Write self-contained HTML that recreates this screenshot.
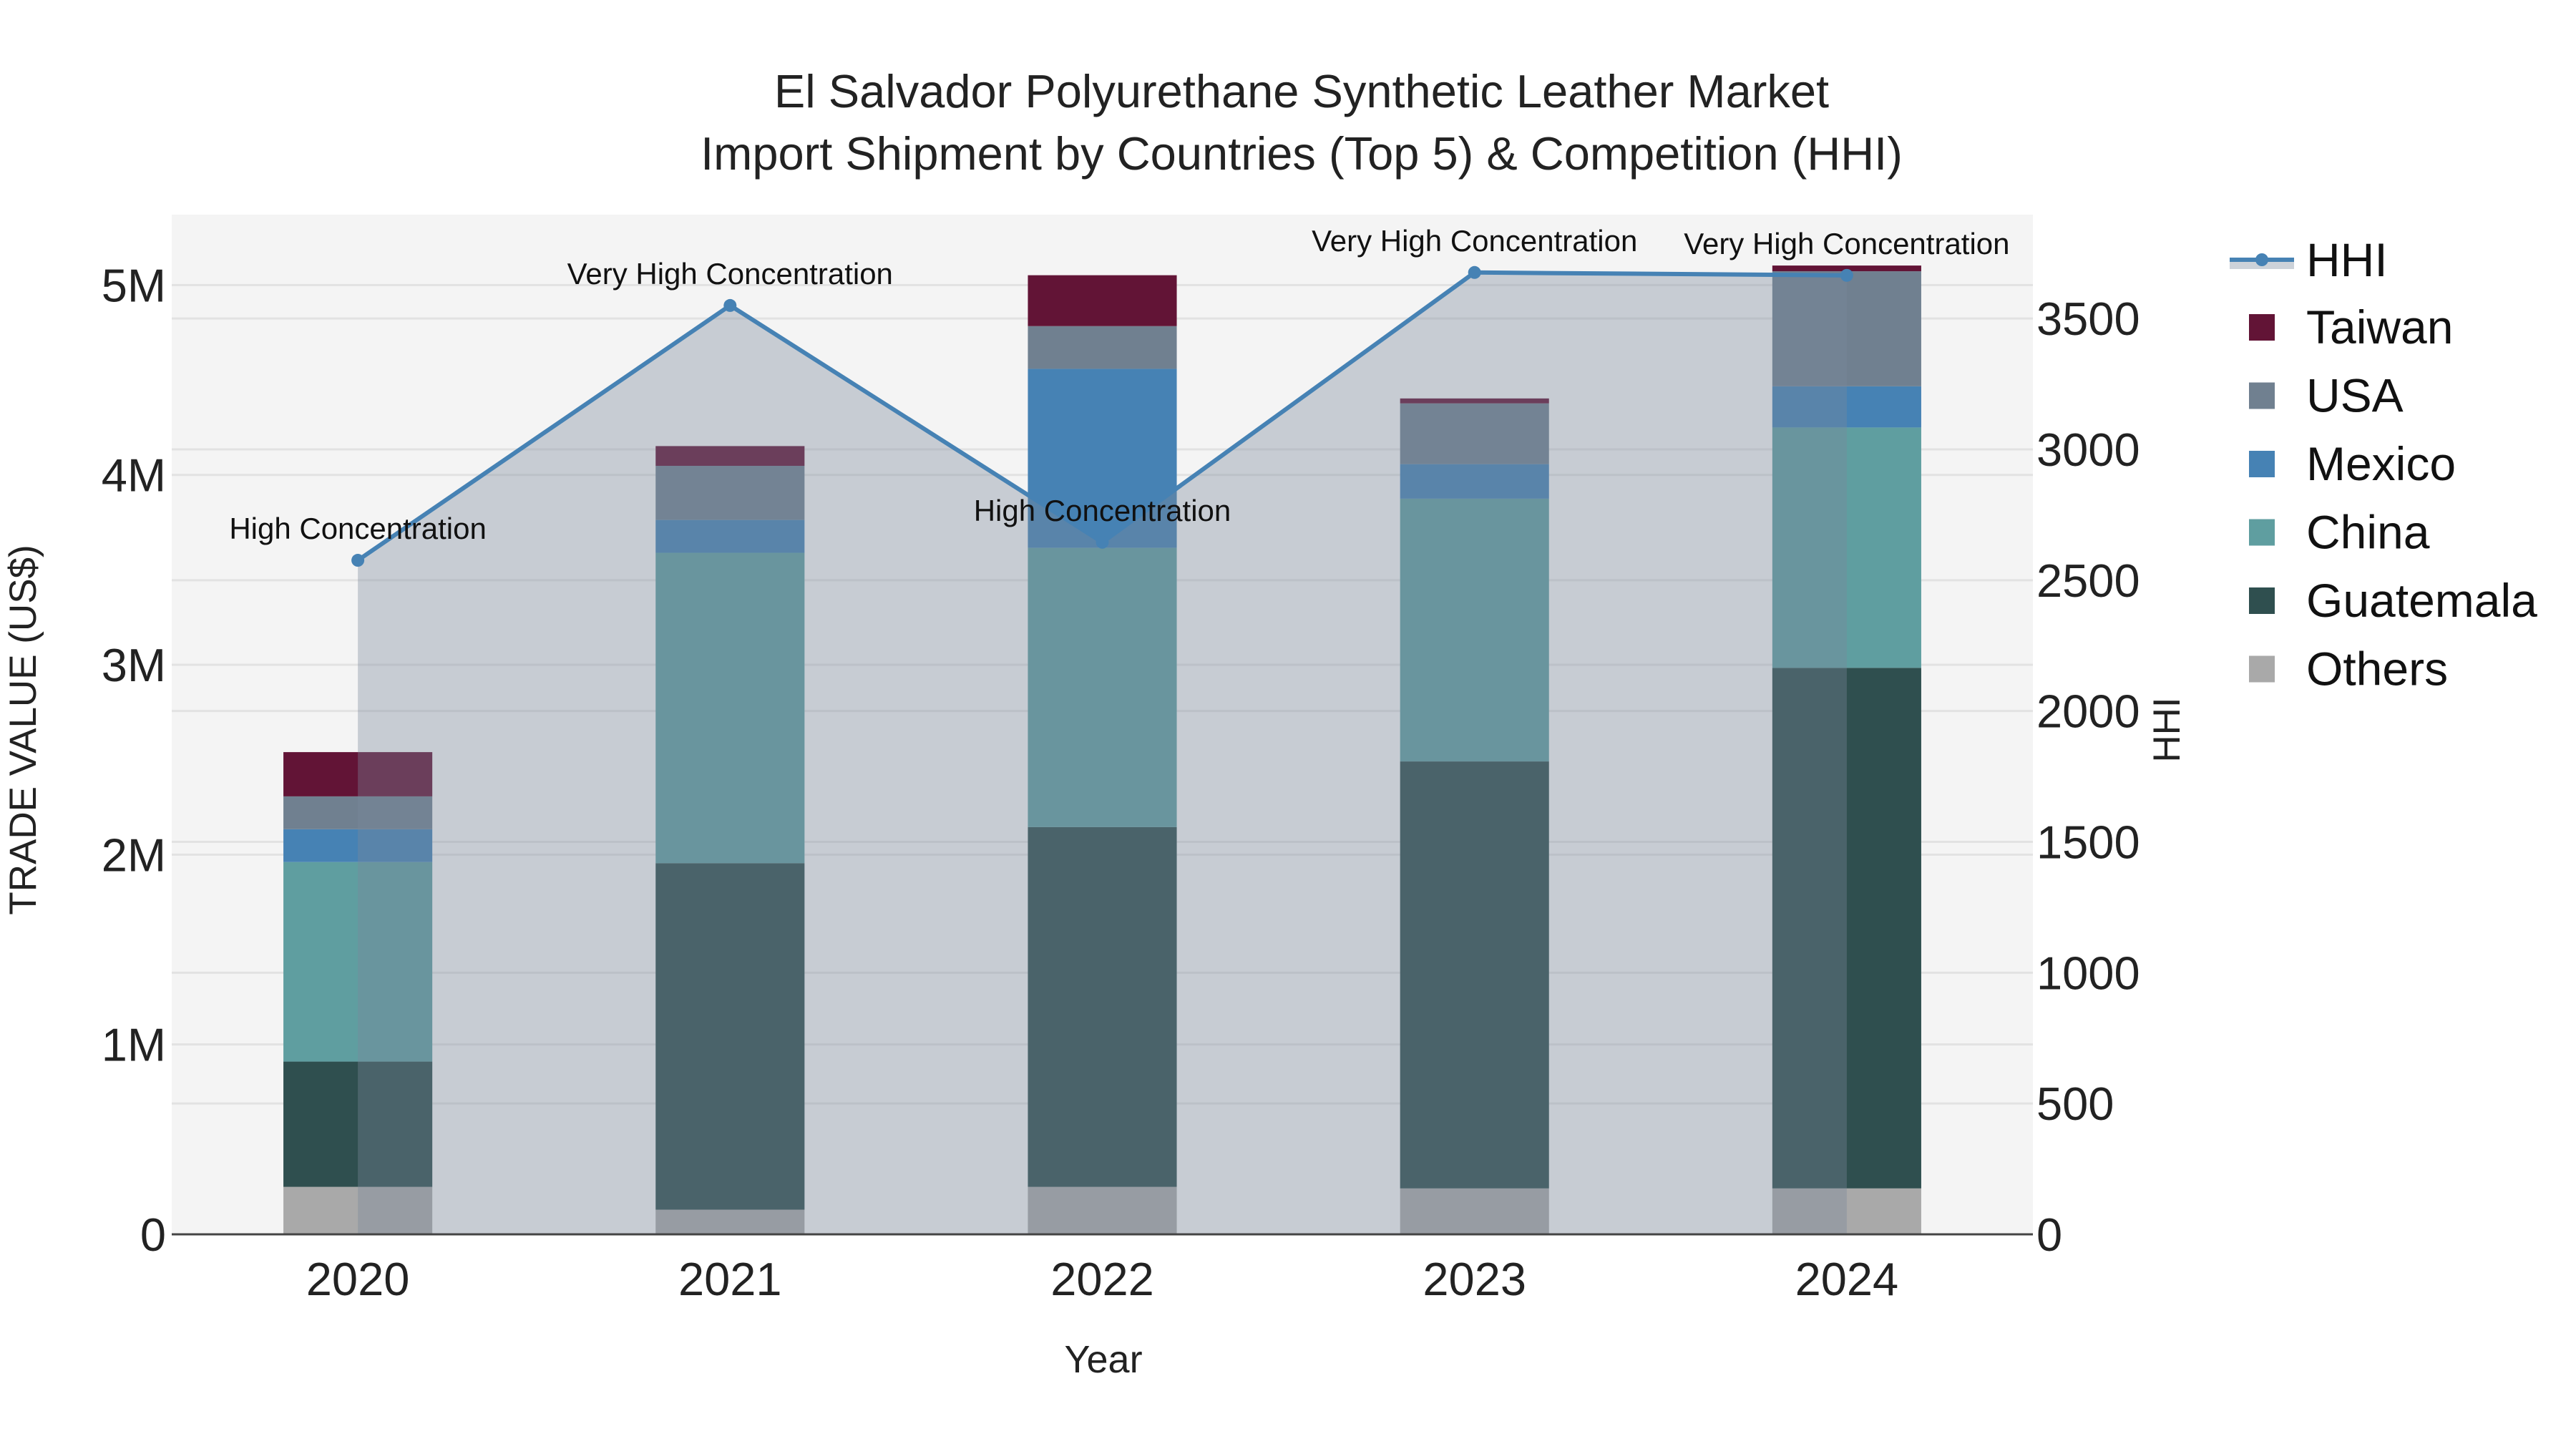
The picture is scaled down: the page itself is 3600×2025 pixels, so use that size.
<!DOCTYPE html>
<html><head><meta charset="utf-8"><style>
html,body{margin:0;padding:0;background:#fff;}
svg{display:block;font-family:"Liberation Sans",Arial,sans-serif;}
</style></head><body>
<svg id="chart" width="3600" height="2025" viewBox="0 0 3600 2025">
<rect x="0" y="0" width="3600" height="2025" fill="#fff"/>
<rect x="240" y="300" width="2601" height="1425" fill="#f4f4f4"/>
<g id="grid"></g><g id="bars"></g><g id="hhi"></g><g id="axes"></g><g id="annots"></g>
<text x="1819" y="150" font-size="65" text-anchor="middle" fill="#222">El Salvador Polyurethane Synthetic Leather Market</text>
<text x="1819" y="237" font-size="65" text-anchor="middle" fill="#222">Import Shipment by Countries (Top 5) &amp; Competition (HHI)</text>
<text x="1542" y="1918" font-size="54" text-anchor="middle" fill="#222">Year</text>
<text transform="translate(50,1020) rotate(-90)" font-size="53" text-anchor="middle" fill="#222">TRADE VALUE (US$)</text>
<text transform="translate(3046,1020) rotate(-90)" font-size="53" text-anchor="middle" fill="#222">HHI</text>
<g id="legend"></g>
</svg>
<script>
const years = ["2020","2021","2022","2023","2024"];
const others = [0.25, 0.13, 0.25, 0.242, 0.242];
const guatemala = [0.66, 1.825, 1.895, 2.249, 2.742];
const china = [1.051, 1.635, 1.471, 1.384, 1.266];
const mexico = [0.173, 0.173, 0.943, 0.182, 0.217];
const usa = [0.173, 0.285, 0.225, 0.320, 0.606];
const taiwan = [0.233, 0.104, 0.268, 0.026, 0.030];
const hhi = [2576, 3550, 2645, 3676, 3665];
const hhiLabels = ["High Concentration","Very High Concentration","High Concentration","Very High Concentration","Very High Concentration"];
const leftTicks = [0,1,2,3,4,5];
const leftTickLabels = ["0","1M","2M","3M","4M","5M"];
const rightTicks = [0,500,1000,1500,2000,2500,3000,3500];

const NS="http://www.w3.org/2000/svg";
const X0=240, X1=2841, Y0=1725, YT=300;
const yMax=5.371, y2Max=3897;
const band=(X1-X0)/years.length;
const xC=i=>X0+band*(i+0.5);
const yL=v=>Y0-(v/yMax)*(Y0-YT);
const yR=v=>Y0-(v/y2Max)*(Y0-YT);
function mk(tag,attrs,parent){const e=document.createElementNS(NS,tag);for(const k in attrs)e.setAttribute(k,attrs[k]);parent.appendChild(e);return e;}
const grid=document.getElementById('grid'),bars=document.getElementById('bars'),hg=document.getElementById('hhi'),axes=document.getElementById('axes'),ann=document.getElementById('annots'),leg=document.getElementById('legend');

leftTicks.forEach((t,i)=>{
  if(t>0){const l=mk('line',{x1:X0,x2:X1,y1:yL(t),y2:yL(t),stroke:'#e2e2e2','stroke-width':3},grid);
  
  }
  const tx=mk('text',{x:232,y:yL(t)+23,'font-size':65,'text-anchor':'end',fill:'#222'},axes);tx.textContent=leftTickLabels[i];
  
  
});
rightTicks.forEach(t=>{
  if(t>0){const l=mk('line',{x1:X0,x2:X1,y1:yR(t),y2:yR(t),stroke:'#e2e2e2','stroke-width':3},grid);
  
  }
  const tx=mk('text',{x:2846,y:yR(t)+23,'font-size':65,'text-anchor':'start',fill:'#222'},axes);tx.textContent=String(t);
  
  
});
const series=[["Others",others,"#a9a9a9"],["Guatemala",guatemala,"#2f4f4f"],["China",china,"#5f9ea0"],["Mexico",mexico,"#4682b4"],["USA",usa,"#708090"],["Taiwan",taiwan,"#621436"]];
const bw=band*0.4;
years.forEach((yr,i)=>{
  let base=0;
  series.forEach(s=>{
    const v=s[1][i];
    const r=mk('rect',{x:xC(i)-bw/2,y:yL(base+v),width:bw,height:yL(base)-yL(base+v),fill:s[2]},bars);
    
    
    base+=v;
  });
  const tx=mk('text',{x:xC(i),y:1810,'font-size':65,'text-anchor':'middle',fill:'#222'},axes);tx.textContent=yr;
  
  
});
let d='M'+xC(0)+','+Y0;
hhi.forEach((v,i)=>{d+=' L'+xC(i)+','+yR(v);});
d+=' L'+xC(hhi.length-1)+','+Y0+' Z';
const area=mk('path',{d:d,fill:'rgba(122,136,155,0.37)'},hg);


const pl=mk('polyline',{points:hhi.map((v,i)=>xC(i)+','+yR(v)).join(' '),fill:'none',stroke:'#4682b4','stroke-width':6},hg);


hhi.forEach((v,i)=>{
  const c=mk('circle',{cx:xC(i),cy:yR(v),r:9,fill:'#4682b4'},hg);
  
  
  const t=mk('text',{x:xC(i),y:yR(v)-30,'font-size':42,'text-anchor':'middle',fill:'#111'},ann);t.textContent=hhiLabels[i];
  
  
});
const zl=mk('line',{x1:X0,x2:X1,y1:Y0,y2:Y0,stroke:'#444','stroke-width':3},axes);



// legend
const lg0=mk('g',{},leg);


mk('rect',{x:3116,y:363,width:90,height:13,fill:'#ccd2d9'},lg0);
mk('line',{x1:3116,x2:3206,y1:363,y2:363,stroke:'#4682b4','stroke-width':6},lg0);
mk('circle',{cx:3161,cy:363,r:9,fill:'#4682b4'},lg0);
const t0=mk('text',{x:3223,y:386,'font-size':66,fill:'#111'},lg0);t0.textContent='HHI';
const legOrder=[["Taiwan","#621436"],["USA","#708090"],["Mexico","#4682b4"],["China","#5f9ea0"],["Guatemala","#2f4f4f"],["Others","#a9a9a9"]];
legOrder.forEach((s,k)=>{
  const cy=457+k*95.5;
  const g=mk('g',{},leg);
  
  
  mk('rect',{x:3143,y:cy-18,width:36,height:37,fill:s[1]},g);
  const t=mk('text',{x:3223,y:cy+23,'font-size':66,fill:'#111'},g);t.textContent=s[0];
});
</script>
</body></html>
